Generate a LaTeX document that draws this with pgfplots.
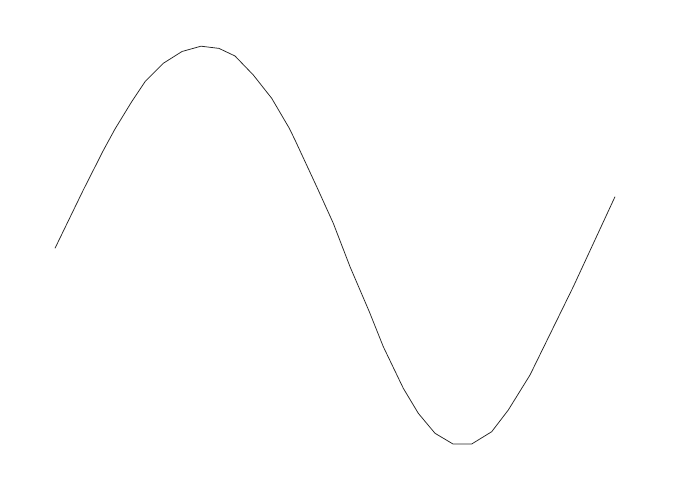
\documentclass[border=0pt]{standalone}
\usepackage{pgfplots}
\pgfplotsset{compat=1.18}
\begin{document}
\begin{tikzpicture}
\begin{axis}[
  width=6.75in, height=5.03in, scale only axis,
  xmin=0, xmax=675, ymin=0, ymax=503,
  hide axis, clip=false,
]
\addplot[draw=none, forget plot] coordinates {(0,0) (675,503)};
\addplot[black!85, line width=0.55pt, mark=none] coordinates {
(55,254.7)
(83.3,313)
(103.3,352.5)
(115,374)
(131.7,401.3)
(145,421.3)
(163.3,439.7)
(182,451.5)
(201,456.8)
(219,454.6)
(235,447)
(253.3,428)
(271.7,404.7)
(289.3,374.7)
(295,363)
(316.7,316.3)
(333.3,279.7)
(350,236.3)
(369.3,191.3)
(383.3,156.3)
(403.3,114.7)
(418.3,89.7)
(435,69.7)
(453,59)
(471.7,59)
(491.7,71.3)
(508.3,93)
(530,128)
(573.3,216.3)
(615,306.3)
};
\end{axis}
\useasboundingbox (0,0) rectangle (6.75in,5.03in);
\end{tikzpicture}
\end{document}
